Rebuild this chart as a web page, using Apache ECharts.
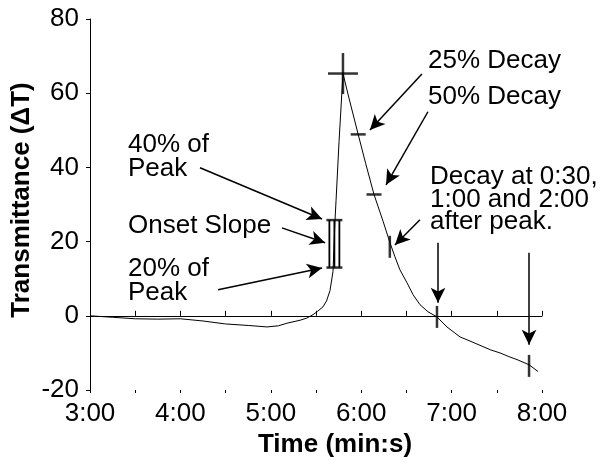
<!DOCTYPE html>
<html>
<head>
<meta charset="utf-8">
<script src="https://cdn.jsdelivr.net/npm/echarts@6/dist/echarts.min.js"></script>
<style>
  html, body { margin: 0; padding: 0; background: #fff; }
  #chart { width: 602px; height: 465px; }
</style>
</head>
<body>
<div id="chart"></div>
<script>
// data (time in seconds, transmittance ΔT)
var timeSec = [180, 195, 210, 225, 240, 255, 270, 285, 297.5, 305, 310.7, 319.4, 324, 328, 331, 334.6, 337, 339.3, 341.3,
  342.6, 343.3, 345.3, 347.9, 352, 358, 363, 368.5, 372, 374.5, 379.1, 382.4, 385.7, 390.4, 394.4, 399, 404.3,
  410.3, 416.9, 425.6, 432.2, 440.8, 446, 452.1, 458, 463.4, 471.4, 477.3];
var transmittance = [0, -0.4, -0.8, -0.9, -0.8, -1.4, -2.2, -2.6, -3.0, -2.7, -2.0, -1.2, -0.6, 0.3, 1.2, 2.4, 4.0, 6.8, 12.0,
  25.6, 31, 47, 65.3, 58.5, 48.9, 41, 32.7, 28.5, 25.5, 19.7, 15.9, 12.4, 8.9, 5.7, 3.0, 1.1,
  -0.3, -3.0, -5.7, -6.8, -8.3, -9.2, -10, -11.0, -11.8, -13.2, -15];

var xTicks = [180, 240, 300, 360, 420, 480];
var xTickLabels = ['3:00', '4:00', '5:00', '6:00', '7:00', '8:00'];
var yTicks = [-20, 0, 20, 40, 60, 80];

var peakPoint = [[347.9, 65.3]];
var decayLevels = [[358, 48.9], [368.5, 32.7]];
var onsetBounds = [[342.2, 13.0], [342.2, 25.8]];
var onsetSpan = [[342.2, 13.0, 25.8]];
var timeMarks = [[379, 18.6], [410.3, -0.3], [471.4, -13.5]];

var arrowFrom = [[253, 39.9], [307.4, 23.7], [265, 7.0], [400.3, 65.2], [404.3, 55], [399, 25.9], [411, 19.7], [471.4, 17]];
var arrowTo = [[334, 26.1], [336, 19.7], [334, 12.9], [365.8, 50.1], [376.5, 35.3], [382.4, 19.1], [411, 3.5], [471.4, -7.8]];

var notes = [
  { text: '40% of\nPeak', x: 128, y: 133, lh: 24 },
  { text: 'Onset Slope', x: 128, y: 214, lh: 24 },
  { text: '20% of\nPeak', x: 128, y: 257, lh: 24 },
  { text: '25% Decay', x: 428, y: 49, lh: 24 },
  { text: '50% Decay', x: 428, y: 85, lh: 24 },
  { text: 'Decay at 0:30,\n1:00 and 2:00\nafter peak.', x: 430, y: 166, lh: 22.5 }
];

var FONT = '"Liberation Sans", Arial, sans-serif';

var chart = echarts.init(document.getElementById('chart'), null, { renderer: 'canvas' });

var curve = timeSec.map(function (t, i) { return [t, transmittance[i]]; });
var arrows = arrowFrom.map(function (p, i) {
  return [{ coord: p }, { coord: arrowTo[i] }];
});

var option = {
  animation: false,
  backgroundColor: '#fff',
  grid: { left: 90, right: 60, top: 19, bottom: 75 },
  xAxis: [{
    type: 'value',
    min: xTicks[0],
    max: xTicks[xTicks.length - 1],
    interval: 30,
    axisLine: { lineStyle: { color: '#000', width: 1 } },
    axisTick: { inside: true, length: 5, lineStyle: { color: '#000' } },
    splitLine: { show: false },
    axisLabel: {
      color: '#000', fontSize: 26, fontFamily: FONT, margin: 11,
      formatter: function (v) {
        var k = xTicks.indexOf(v);
        return k >= 0 ? xTickLabels[k] : '';
      }
    }
  }, {
    type: 'value',
    position: 'bottom',
    min: xTicks[0],
    max: xTicks[xTicks.length - 1],
    interval: 30,
    axisLine: { show: false },
    axisTick: { length: 3, lineStyle: { color: '#000' } },
    axisLabel: { show: false },
    splitLine: { show: false }
  }],
  yAxis: {
    type: 'value',
    min: yTicks[0],
    max: yTicks[yTicks.length - 1],
    interval: 20,
    axisLine: { show: true, lineStyle: { color: '#000', width: 1 } },
    axisTick: { show: true, length: 4, lineStyle: { color: '#000' } },
    splitLine: { show: false },
    axisLabel: { color: '#000', fontSize: 26, fontFamily: FONT, margin: 11 }
  },
  series: [{
    type: 'line',
    data: curve,
    showSymbol: false,
    lineStyle: { color: '#000', width: 1 },
    silent: true,
    markLine: {
      silent: true,
      symbol: ['none', 'arrow'],
      symbolSize: [11, 15],
      label: { show: false },
      lineStyle: { color: '#000', width: 1.5, type: 'solid' },
      itemStyle: { color: '#000' },
      data: arrows
    }
  }, {
    type: 'scatter',
    data: peakPoint,
    symbol: 'rect',
    symbolSize: [30, 2.5],
    itemStyle: { color: '#000' },
    silent: true
  }, {
    type: 'scatter',
    data: peakPoint,
    symbol: 'rect',
    symbolSize: [2.5, 41],
    itemStyle: { color: '#000' },
    silent: true
  }, {
    type: 'scatter',
    data: decayLevels,
    symbol: 'rect',
    symbolSize: [15, 2.5],
    itemStyle: { color: '#000' },
    silent: true
  }, {
    type: 'scatter',
    data: onsetBounds,
    symbol: 'rect',
    symbolSize: [16, 2.5],
    itemStyle: { color: '#000' },
    silent: true
  }, {
    type: 'custom',
    data: onsetSpan,
    silent: true,
    renderItem: function (params, api) {
      var lo = api.coord([api.value(0), api.value(1)]);
      var hi = api.coord([api.value(0), api.value(2)]);
      return {
        type: 'group',
        children: [-5, 0, 5].map(function (dx) {
          return {
            type: 'line',
            shape: { x1: lo[0] + dx, y1: lo[1], x2: hi[0] + dx, y2: hi[1] },
            style: { stroke: '#000', lineWidth: 1.8 }
          };
        })
      };
    }
  }, {
    type: 'scatter',
    data: timeMarks,
    symbol: 'rect',
    symbolSize: [2.5, 22],
    itemStyle: { color: '#000' },
    silent: true
  }],
  graphic: notes.map(function (n) {
    return {
      type: 'text',
      x: n.x,
      y: n.y,
      silent: true,
      style: {
        text: n.text,
        font: '26px ' + FONT,
        lineHeight: n.lh,
        fill: '#000',
        verticalAlign: 'top'
      }
    };
  }).concat([{
    type: 'text',
    x: 22,
    y: 200,
    rotation: Math.PI / 2,
    silent: true,
    style: {
      text: 'Transmittance (ΔT)',
      font: 'bold 26px ' + FONT,
      fill: '#000',
      align: 'center',
      verticalAlign: 'middle'
    }
  }, {
    type: 'text',
    x: 335,
    y: 445,
    silent: true,
    style: {
      text: 'Time (min:s)',
      font: 'bold 26px ' + FONT,
      fill: '#000',
      align: 'center',
      verticalAlign: 'middle'
    }
  }])
};

chart.setOption(option);
</script>
</body>
</html>
